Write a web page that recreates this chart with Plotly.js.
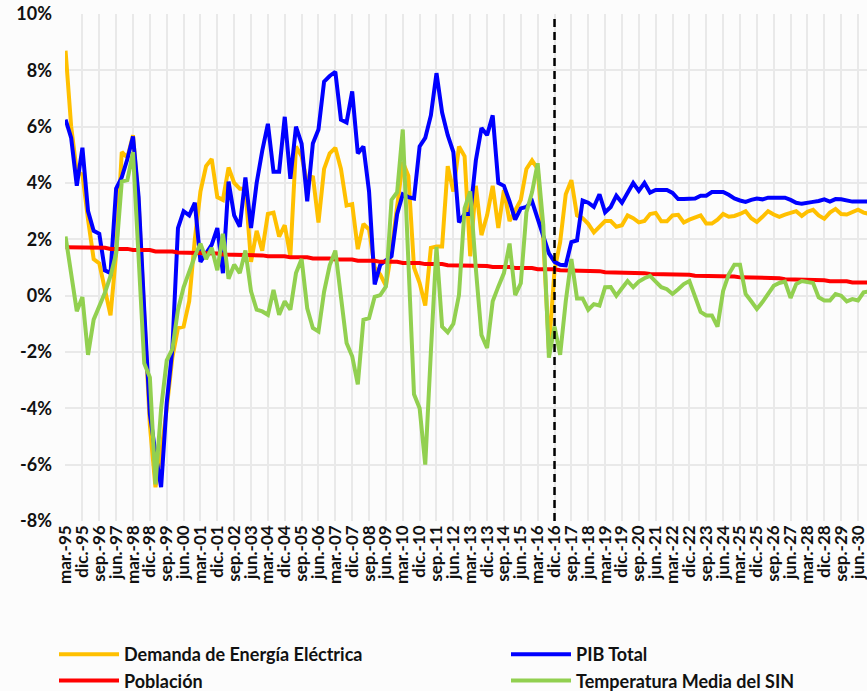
<!DOCTYPE html>
<html>
<head>
<meta charset="utf-8">
<script src="https://cdn.plot.ly/plotly-3.0.1.min.js"></script>
<style>
  body { margin: 0; background: #fcfcfc; }
  #chart { width: 867px; height: 691px; }
</style>
</head>
<body>
<div id="chart"></div>
<script>
// trimestres mar-95 .. dic-30
var meses = ["mar.", "jun.", "sep.", "dic."];
var anios = ["95","96","97","98","99","00","01","02","03","04","05","06","07","08","09","10","11","12",
             "13","14","15","16","17","18","19","20","21","22","23","24","25","26","27","28","29","30"];
var trimestres = [];
anios.forEach(a => meses.forEach(m => trimestres.push(m + "-" + a)));

var demanda = [
  8.7, 6.0, 4.4, 4.3, 2.7, 1.3, 1.15, 0.2, -0.7, 1.5, 5.1, 4.9, 5.7, 3.3, -0.8, -4.6,
  -6.8, -5.6, -4.0, -2.2, -1.15, -1.1, -0.2, 2.0, 3.7, 4.6, 4.85, 3.5, 3.4, 4.55, 4.0, 3.8,
  3.8, 1.2, 2.3, 1.6, 2.9, 2.95, 2.1, 2.5, 1.4, 5.3, 4.95, 4.0, 4.25, 2.6, 4.5, 5.05,
  5.25, 4.5, 3.2, 3.25, 1.65, 2.55, 2.35, 1.0, 0.75, 0.35, 1.6, 3.1, 4.75, 4.25, 1.0, 0.45,
  -0.35, 1.7, 1.75, 1.75, 4.6, 3.7, 5.3, 4.95, 1.4, 3.9, 2.15, 2.85, 3.9, 2.4, 3.75, 2.65,
  3.0, 3.4, 4.5, 4.8, 4.5, 2.0, -1.9, 0.9, 1.9, 3.6, 4.1, 2.85, 2.75, 2.55, 2.25, 2.45,
  2.65, 2.65, 2.45, 2.5, 2.85, 2.75, 2.6, 2.65, 2.9, 2.94, 2.64, 2.64, 2.85, 2.87, 2.6, 2.7,
  2.78, 2.85, 2.56, 2.56, 2.7, 2.9, 2.8, 2.83, 2.9, 3.0, 2.75, 2.62, 2.8, 3.0, 2.88, 2.8,
  2.88, 2.95, 3.0, 2.83, 2.98, 3.05, 2.85, 2.73, 2.95, 3.08, 2.9, 2.88, 2.98, 3.05, 2.95, 2.9
];
var pib = [
  6.25, 5.6, 3.9, 5.25, 3.0, 2.3, 2.2, 0.9, 0.8, 3.8, 4.2, 4.85, 5.65, 3.5, -0.5, -4.2,
  -5.6, -6.8, -3.8, -1.9, 2.4, 3.0, 2.85, 3.3, 1.2, 1.5, 1.8, 2.4, 0.8, 4.05, 2.85, 2.45,
  4.2, 2.4, 4.0, 5.15, 6.1, 4.4, 4.4, 6.35, 4.15, 6.0, 5.4, 3.35, 5.4, 5.9, 7.6, 7.8,
  7.95, 6.25, 6.15, 7.25, 5.05, 5.3, 3.7, 0.4, 1.1, 1.25, 1.4, 2.9, 3.6, 3.5, 3.45, 5.3,
  5.6, 6.4, 7.9, 6.5, 5.7, 5.1, 2.6, 2.9, 2.9, 4.8, 5.95, 5.7, 6.4, 4.0, 3.9, 3.35,
  2.7, 3.1, 3.15, 3.35, 2.7, 2.1, 1.5, 1.2, 1.1, 1.08, 1.9, 1.96, 3.38, 3.3, 3.15, 3.6,
  2.96, 3.15, 3.55, 3.3, 3.65, 4.0, 3.72, 4.0, 3.66, 3.75, 3.75, 3.75, 3.65, 3.43, 3.43, 3.43,
  3.45, 3.55, 3.55, 3.68, 3.68, 3.68, 3.58, 3.45, 3.38, 3.33, 3.4, 3.45, 3.42, 3.48, 3.48, 3.48,
  3.48, 3.4, 3.3, 3.26, 3.31, 3.33, 3.36, 3.42, 3.34, 3.43, 3.42, 3.38, 3.34, 3.34, 3.34, 3.34
];
var poblacion = [
  1.72, 1.72, 1.72, 1.72, 1.70, 1.70, 1.70, 1.70, 1.66, 1.66, 1.66, 1.66, 1.62, 1.62, 1.62, 1.62,
  1.57, 1.57, 1.57, 1.57, 1.53, 1.53, 1.53, 1.53, 1.50, 1.50, 1.50, 1.50, 1.46, 1.46, 1.46, 1.46,
  1.43, 1.43, 1.43, 1.43, 1.40, 1.40, 1.40, 1.40, 1.36, 1.36, 1.36, 1.36, 1.32, 1.32, 1.32, 1.32,
  1.28, 1.28, 1.28, 1.28, 1.24, 1.24, 1.24, 1.24, 1.20, 1.20, 1.20, 1.20, 1.16, 1.16, 1.16, 1.16,
  1.12, 1.12, 1.12, 1.12, 1.08, 1.08, 1.08, 1.08, 1.05, 1.05, 1.05, 1.05, 1.02, 1.02, 1.02, 1.02,
  0.98, 0.98, 0.98, 0.98, 0.94, 0.94, 0.94, 0.94, 0.90, 0.90, 0.90, 0.90, 0.87, 0.87, 0.87, 0.87,
  0.83, 0.83, 0.83, 0.83, 0.80, 0.80, 0.80, 0.80, 0.77, 0.77, 0.77, 0.77, 0.74, 0.74, 0.74, 0.74,
  0.71, 0.71, 0.71, 0.71, 0.68, 0.68, 0.68, 0.68, 0.65, 0.65, 0.65, 0.65, 0.62, 0.62, 0.62, 0.62,
  0.58, 0.58, 0.58, 0.58, 0.55, 0.55, 0.55, 0.55, 0.51, 0.51, 0.51, 0.51, 0.47, 0.47, 0.47, 0.47
];
var temperatura = [
  2.1, 0.7, -0.55, -0.05, -2.1, -0.85, -0.4, 0.1, 0.7, 1.5, 4.05, 4.1, 5.1, 1.3, -2.4, -2.9,
  -6.7, -4.0, -2.3, -1.9, -0.5, 0.3, 0.9, 1.4, 1.85, 1.3, 1.7, 0.9, 2.2, 0.6, 1.1, 0.8,
  1.6, 0.15, -0.5, -0.56, -0.68, 0.2, -0.68, -0.2, -0.5, 0.8, 1.3, -0.45, -1.15, -1.27, 0.14, 1.08,
  1.6, -0.1, -1.68, -2.15, -3.15, -0.86, -0.8, -0.04, 0.02, 0.32, 3.4, 3.67, 5.9, 1.2, -3.5, -4.0,
  -6.0, -2.0, 1.73, -1.1, -1.3, -1.0, 0.02, 3.1, 3.7, 0.96, -1.4, -1.86, -0.2, 0.32, 0.8, 1.85,
  0.02, 0.44, 2.96, 3.67, 4.7, 2.5, -2.2, -1.1, -2.1, -0.2, 1.3, -0.1, -0.1, -0.5, -0.3, -0.35,
  0.3, 0.31, 0.0, 0.26, 0.52, 0.3, 0.5, 0.62, 0.7, 0.5, 0.3, 0.23, 0.06, 0.23, 0.41, 0.52,
  0.0, -0.58, -0.7, -0.7, -1.1, 0.17, 0.76, 1.1, 1.1, 0.06, -0.2, -0.47, -0.23, 0.05, 0.35, 0.45,
  0.5, -0.08, 0.41, 0.52, 0.5, 0.45, -0.06, -0.17, -0.17, 0.06, 0.0, -0.2, -0.12, -0.17, 0.12, 0.15
];

var yTickVals = [-8, -6, -4, -2, 0, 2, 4, 6, 8, 10];
var yTickLabels = ["-8%", "-6%", "-4%", "-2%", "0%", "2%", "4%", "6%", "8%", "10%"];
var xTickLabels = trimestres.filter((t, k) => k % 3 === 0);
var corte = "dic.-16";

var fuente = "Lato, 'Liberation Sans', sans-serif";

function serie(nombre, valores, color, leyenda) {
    return {
        x: trimestres,
        y: valores,
        name: nombre,
        type: "scatter",
        mode: "lines",
        line: {color: color, width: 4},
        legend: leyenda
    };
}

var data = [
    serie("Demanda de Energía Eléctrica", demanda, "#FFC000", "legend"),
    serie("PIB Total", pib, "#0000FF", "legend2"),
    serie("Población", poblacion, "#FF0000", "legend"),
    serie("Temperatura Media del SIN", temperatura, "#92D050", "legend2")
];

var legendBase = {
    orientation: "v",
    xref: "container",
    yref: "container",
    yanchor: "top",
    xanchor: "left",
    bgcolor: "rgba(0,0,0,0)",
    itemwidth: 60,
    font: {family: fuente, size: 18, color: "#111", weight: "bold"}
};

var layout = {
    width: 867,
    height: 691,
    margin: {l: 65, r: 0, t: 14, b: 170, autoexpand: false},
    paper_bgcolor: "#fcfcfc",
    plot_bgcolor: "#fcfcfc",
    showlegend: true,
    xaxis: {
        type: "category",
        range: [-0.1, 142.6],
        tickmode: "array",
        tickvals: xTickLabels,
        ticktext: xTickLabels,
        tickangle: -90,
        ticks: "",
        showgrid: true,
        gridcolor: "#e9e9e9",
        gridwidth: 2,
        zeroline: false,
        showline: false,
        automargin: false,
        tickfont: {family: fuente, size: 17, color: "#111", weight: "bold"}
    },
    yaxis: {
        range: [-8, 10],
        tickmode: "array",
        tickvals: yTickVals,
        ticktext: yTickLabels,
        ticks: "",
        ticklabelstandoff: 12,
        showgrid: true,
        gridcolor: "#e9e9e9",
        gridwidth: 2,
        zeroline: false,
        showline: false,
        automargin: false,
        tickfont: {family: fuente, size: 18, color: "#111", weight: "bold"}
    },
    legend: Object.assign({}, legendBase, {x: 54 / 867, y: 1 - 636 / 691}),
    legend2: Object.assign({}, legendBase, {x: 506 / 867, y: 1 - 636 / 691}),
    shapes: [{
        type: "line",
        xref: "x",
        yref: "paper",
        x0: corte, x1: corte,
        y0: 0, y1: 1,
        line: {color: "#000", width: 2.5, dash: "8px,5px"}
    }]
};

Plotly.newPlot("chart", data, layout, {displayModeBar: false});
</script>
</body>
</html>
